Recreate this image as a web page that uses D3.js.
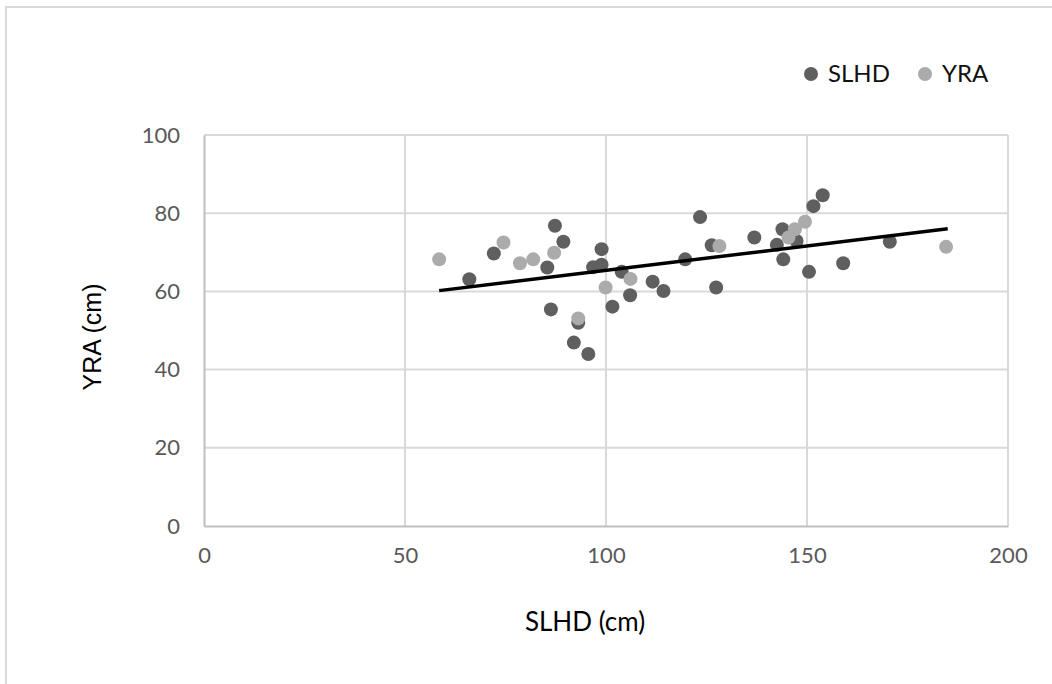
<!DOCTYPE html>
<html>
<head>
<meta charset="utf-8">
<script src="https://cdn.jsdelivr.net/npm/d3@7"></script>
<style>
    html, body { margin: 0; padding: 0; background: #fff; }
    svg { display: block; }
</style>
</head>
<body>
<div id="chart"></div>
<script>
// SLHD series (dark markers)
const slhdPoints = [
    [66.0, 63.1], [72.1, 69.7], [85.4, 66.1], [86.3, 55.4], [87.3, 76.8],
    [89.4, 72.7], [92.0, 46.9], [93.1, 52.0], [95.6, 44.0], [96.8, 66.2],
    [98.9, 66.8], [98.9, 70.8], [101.6, 56.1], [103.9, 65.0], [106.0, 59.0],
    [111.6, 62.5], [114.3, 60.1], [119.7, 68.2], [123.4, 79.0], [126.3, 71.8],
    [127.4, 61.0], [136.9, 73.8], [142.5, 71.9], [143.9, 75.9], [144.1, 68.2],
    [147.4, 72.9], [150.5, 65.0], [151.6, 81.8], [153.9, 84.6], [159.0, 67.2],
    [170.6, 72.7]
];

// YRA series (light markers)
const yraPoints = [
    [58.5, 68.2], [74.5, 72.5], [78.6, 67.2], [81.9, 68.2], [87.1, 69.9],
    [93.1, 53.1], [99.9, 61.0], [106.1, 63.2], [128.2, 71.6], [145.4, 73.8],
    [147.0, 75.9], [149.5, 77.8], [184.6, 71.4]
];

// linear trend line end points
const trendPoints = [[58.5, 60.2], [185.0, 76.0]];

const xTicks = [0, 50, 100, 150, 200];
const yTicks = [0, 20, 40, 60, 80, 100];

const seriesNames = ["SLHD", "YRA"];
const seriesColors = ["#5f5f5f", "#ababab"];

const W = 1052, H = 684;
const svg = d3.select("#chart").append("svg")
    .attr("width", W)
    .attr("height", H);

// outer chart border (only top/left visible in the reference)
svg.append("rect")
    .attr("x", 6).attr("y", 7)
    .attr("width", W + 20).attr("height", H + 20)
    .attr("fill", "#fff")
    .attr("stroke", "#d9d9d9")
    .attr("stroke-width", 2);

const x = d3.scaleLinear().domain([0, 200]).range([204, 1008]);
const y = d3.scaleLinear().domain([0, 100]).range([526, 135]);

// gridlines
svg.append("g")
    .selectAll("line")
    .data(xTicks.filter(d => d > 0))
    .join("line")
    .attr("x1", d => x(d)).attr("x2", d => x(d))
    .attr("y1", y(0)).attr("y2", y(100))
    .attr("stroke", "#d9d9d9").attr("stroke-width", 2);

svg.append("g")
    .selectAll("line")
    .data(yTicks.filter(d => d > 0))
    .join("line")
    .attr("x1", x(0)).attr("x2", x(200))
    .attr("y1", d => y(d)).attr("y2", d => y(d))
    .attr("stroke", "#d9d9d9").attr("stroke-width", 2);

// axes
const tickFont = g => g.selectAll("text")
    .attr("fill", "#595959")
    .style("font-family", "Lato, sans-serif")
    .style("font-size", "22px");

const xAxis = svg.append("g")
    .attr("transform", `translate(0,${y(0)})`)
    .call(d3.axisBottom(x).tickValues(xTicks).tickSize(0).tickPadding(21))
    .call(tickFont);
xAxis.select(".domain").attr("stroke", "#bfbfbf").attr("stroke-width", 2);

const yAxis = svg.append("g")
    .attr("transform", `translate(${x(0)},0)`)
    .call(d3.axisLeft(y).tickValues(yTicks).tickSize(0).tickPadding(24))
    .call(tickFont);
yAxis.select(".domain").attr("stroke", "#bfbfbf").attr("stroke-width", 2);

// points
const series = [slhdPoints, yraPoints];
series.forEach((pts, i) => {
    svg.append("g")
        .selectAll("circle")
        .data(pts)
        .join("circle")
        .attr("cx", d => x(d[0]))
        .attr("cy", d => y(d[1]))
        .attr("r", 7)
        .attr("fill", seriesColors[i]);
});

// trend line
svg.append("path")
    .datum(trendPoints)
    .attr("d", d3.line().x(d => x(d[0])).y(d => y(d[1])))
    .attr("fill", "none")
    .attr("stroke", "#000")
    .attr("stroke-width", 3.5);

// axis titles
svg.append("text")
    .attr("x", 585).attr("y", 631)
    .attr("text-anchor", "middle")
    .attr("fill", "#000")
    .style("font-family", "Lato, sans-serif")
    .style("font-size", "26px")
    .text("SLHD (cm)");

svg.append("text")
    .attr("transform", "translate(101,337) rotate(-90)")
    .attr("text-anchor", "middle")
    .attr("fill", "#000")
    .style("font-family", "'Liberation Sans', Arial, sans-serif")
    .style("font-size", "25px")
    .text("YRA (cm)");

// legend
const legendX = [811, 925];
const legend = svg.append("g");
seriesNames.forEach((name, i) => {
    legend.append("circle")
        .attr("cx", legendX[i]).attr("cy", 74)
        .attr("r", 7)
        .attr("fill", seriesColors[i]);
    legend.append("text")
        .attr("x", legendX[i] + 17).attr("y", 82)
        .attr("fill", "#111")
        .style("font-family", "Lato, sans-serif")
        .style("font-size", "24px")
        .text(name);
});
</script>
</body>
</html>
